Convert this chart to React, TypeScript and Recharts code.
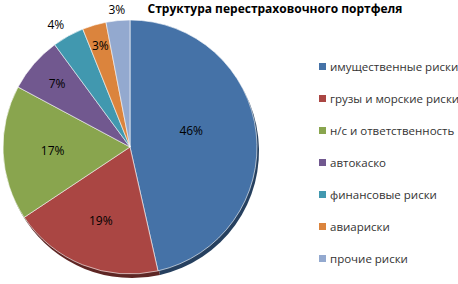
import { Pie, PieChart, Cell, Legend } from "recharts";

const categories = [
  "имущественные риски",
  "грузы и морские риски",
  "н/с и ответственность",
  "автокаско",
  "финансовые риски",
  "авиариски",
  "прочие риски",
];
const shares = [46, 19, 17, 7, 4, 3, 3];
const shareLabels = ["46%", "19%", "17%", "7%", "4%", "3%", "3%"];

const colors = ["#4572A7", "#AA4643", "#89A54E", "#71588F", "#4198AF", "#DB843D", "#93A9CF"];
const shadowColors = ["#26405F", "#5E2624", "#4D5D2C", "#3F3150", "#245563", "#7A4A22", "#53607A"];
// label distance from centre (share of radius) and angular nudge in degrees
const labelDist = [0.5, 0.62, 0.61, 0.76, 1.13, 0.83, 1.09];
const labelNudge = [9, 0, 0, 0, 2, 0, 0];

const data = categories.map((name, i) => ({ name, value: shares[i], label: shareLabels[i] }));

const RAD = Math.PI / 180;

const renderLabel = (props: any) => {
  const { cx, cy, midAngle, outerRadius, index } = props;
  const r = outerRadius * labelDist[index];
  const a = (midAngle + labelNudge[index]) * RAD;
  const x = cx + r * Math.cos(-a);
  const y = cy + r * Math.sin(-a);
  return (
    <text x={x} y={y} fill="#000" fontSize={12} textAnchor="middle" dominantBaseline="central"
      fontFamily="'Open Sans', sans-serif">
      {data[index].label}
    </text>
  );
};

const renderLegend = () => (
  <div style={{ fontFamily: "'Open Sans', sans-serif", fontSize: 11.5, color: "#333" }}>
    {categories.map((c, i) => (
      <div key={c} style={{ display: "flex", alignItems: "center", height: 32 }}>
        <span style={{ width: 7, height: 7, background: colors[i], marginRight: 4, display: "inline-block" }} />
        <span style={{ whiteSpace: "nowrap" }}>{c}</span>
      </div>
    ))}
  </div>
);

export default function App() {
  return (
    <div style={{ position: "absolute", left: 0, top: 0, width: 458, height: 284, background: "#fff", overflow: "hidden" }}>
      <div style={{ position: "absolute", left: 145, top: 0, width: 260, textAlign: "center", fontFamily: "'Open Sans', sans-serif", fontWeight: 700, fontSize: 12, color: "#000", whiteSpace: "nowrap" }}>
        Структура перестраховочного портфеля
      </div>
      <PieChart width={458} height={284} margin={{ top: 0, right: 0, bottom: 0, left: 0 }}>
        <Pie data={data} dataKey="value" cx={132} cy={151} outerRadius={127} startAngle={90} endAngle={-270}
          stroke="none" isAnimationActive={false} label={false} labelLine={false}>
          {data.map((d, i) => <Cell key={d.name} fill={shadowColors[i]} />)}
        </Pie>
        <Pie data={data} dataKey="value" cx={130} cy={147} outerRadius={127} startAngle={90} endAngle={-270}
          stroke="#fff" strokeWidth={0.6} isAnimationActive={false} label={renderLabel} labelLine={false}>
          {data.map((d, i) => <Cell key={d.name} fill={colors[i]} />)}
        </Pie>
        <Legend content={renderLegend} layout="vertical" verticalAlign="top" align="right"
          wrapperStyle={{ position: "absolute", left: 319, top: 50, width: 150 }} />
      </PieChart>
    </div>
  );
}
